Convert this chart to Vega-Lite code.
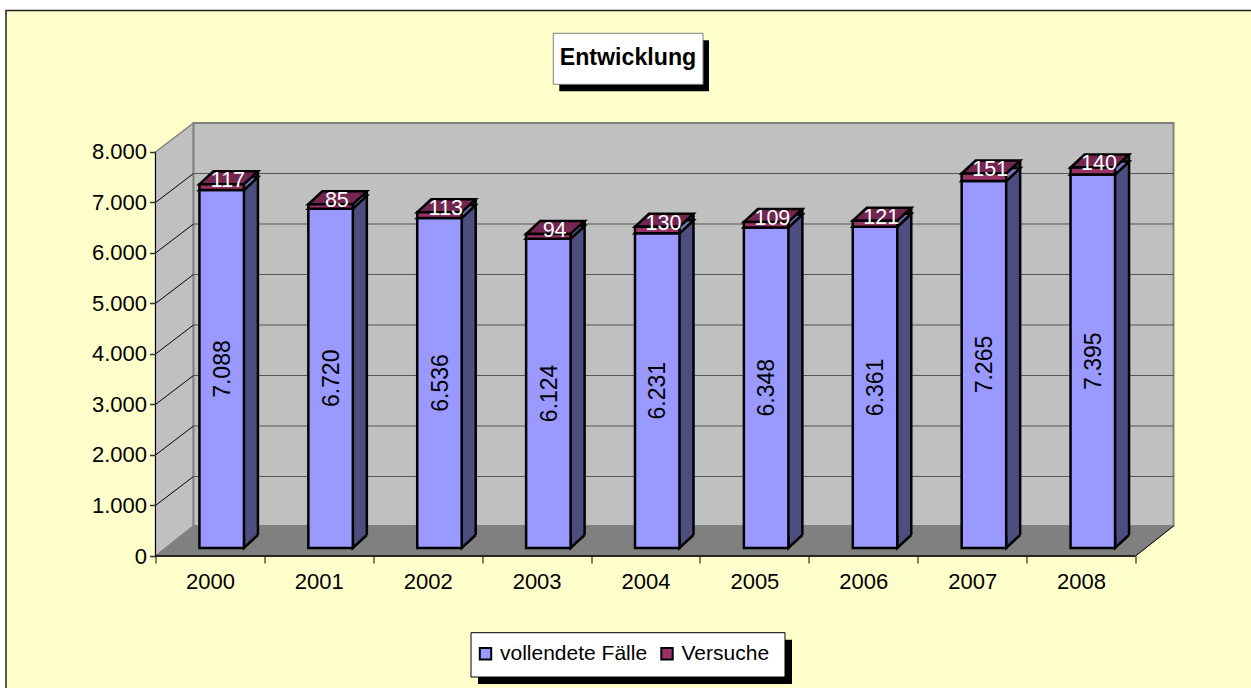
{"$schema":"https://vega.github.io/schema/vega-lite/v6.json","width":1018,"height":434,"autosize":"none","padding":{"left":155.5,"top":122,"right":77.5,"bottom":132},"background":"#ffffff","config":{"view":{"stroke":null},"font":"Liberation Sans","locale":{"number":{"decimal":",","thousands":".","grouping":[3],"currency":["","€"]}}},"title":{"text":"Entwicklung","anchor":"middle","frame":"group","dx":-36.5,"offset":0,"dy":63,"fontSize":23.2,"fontWeight":"bold","color":"#000000","font":"Liberation Sans"},"datasets":{"one":[{"k":"a"}],"grid":[{"v":1000},{"v":2000},{"v":3000},{"v":4000},{"v":5000},{"v":6000},{"v":7000}]},"data":{"values":[{"year":2000,"series":"vollendete Fälle","value":7088},{"year":2001,"series":"vollendete Fälle","value":6720},{"year":2002,"series":"vollendete Fälle","value":6536},{"year":2003,"series":"vollendete Fälle","value":6124},{"year":2004,"series":"vollendete Fälle","value":6231},{"year":2005,"series":"vollendete Fälle","value":6348},{"year":2006,"series":"vollendete Fälle","value":6361},{"year":2007,"series":"vollendete Fälle","value":7265},{"year":2008,"series":"vollendete Fälle","value":7395},{"year":2000,"series":"Versuche","value":117},{"year":2001,"series":"Versuche","value":85},{"year":2002,"series":"Versuche","value":113},{"year":2003,"series":"Versuche","value":94},{"year":2004,"series":"Versuche","value":130},{"year":2005,"series":"Versuche","value":109},{"year":2006,"series":"Versuche","value":121},{"year":2007,"series":"Versuche","value":151},{"year":2008,"series":"Versuche","value":140}]},"transform":[{"stack":"value","groupby":["year"],"sort":[{"field":"series","order":"descending"}],"as":["s0","s1"]}],"resolve":{"axis":{"x":"independent","y":"independent"}},"layer":[
{"data":{"name":"one"},"mark":{"type":"point","shape":"M-149.5,-545.5L1106,-545.5L1106,142L-149.5,142Z","size":4,"filled":true,"fill":"#ffffcc","stroke":"#222222","strokeWidth":1.5,"opacity":1},"encoding":{"x":{"datum":1999.5,"type":"quantitative","scale":{"domain":[1999.5,2008.849],"nice":false,"zero":false,"padding":0},"axis":null},"y":{"datum":0,"type":"quantitative","scale":{"domain":[0,8594],"nice":false,"padding":0},"axis":{"orient":"left","values":[0,1000,2000,3000,4000,5000,6000,7000,8000],"format":",d","domain":false,"grid":false,"title":null,"tickColor":"#333333","tickSize":6,"tickWidth":1.5,"labelFontSize":22,"labelColor":"#000000","labelPadding":3,"labelFont":"Liberation Sans","zindex":1}}}},
{"data":{"name":"one"},"mark":{"type":"point","shape":"M397.8,-522.7L547.5,-522.7L547.5,-471.7L397.8,-471.7Z","xOffset":6,"yOffset":7,"size":4,"filled":true,"fill":"#000000","opacity":1},"encoding":{"x":{"datum":1999.5,"type":"quantitative","axis":null},"y":{"datum":0,"type":"quantitative","axis":null}}},
{"data":{"name":"one"},"mark":{"type":"point","shape":"M397.8,-522.7L547.5,-522.7L547.5,-471.7L397.8,-471.7Z","size":4,"filled":true,"fill":"#ffffff","stroke":"#808080","strokeWidth":1,"opacity":1},"encoding":{"x":{"datum":1999.5,"type":"quantitative","axis":null},"y":{"datum":0,"type":"quantitative","axis":null}}},
{"data":{"name":"one"},"mark":{"type":"point","shape":"M315.5,76.7L629.5,76.7L629.5,121L315.5,121Z","xOffset":7,"yOffset":7,"size":4,"filled":true,"fill":"#000000","opacity":1},"encoding":{"x":{"datum":1999.5,"type":"quantitative","axis":null},"y":{"datum":0,"type":"quantitative","axis":null}}},
{"data":{"name":"one"},"mark":{"type":"point","shape":"M315.5,76.7L629.5,76.7L629.5,121L315.5,121Z","size":4,"filled":true,"fill":"#ffffff","stroke":"#000000","strokeWidth":1,"opacity":1},"encoding":{"x":{"datum":1999.5,"type":"quantitative","axis":null},"y":{"datum":0,"type":"quantitative","axis":null}}},
{"data":{"name":"one"},"mark":{"type":"point","shape":"M0,0L38,-30L38,-433L0,-404Z","size":4,"filled":true,"fill":"#c0c0c0","stroke":"#808080","strokeWidth":1.5,"opacity":1},"encoding":{"x":{"datum":1999.5,"type":"quantitative","axis":null},"y":{"datum":0,"type":"quantitative","axis":null}}},
{"data":{"name":"one"},"mark":{"type":"rect","fill":"#c0c0c0","stroke":"#808080","strokeWidth":2,"xOffset":38,"x2Offset":38,"yOffset":-30,"y2Offset":-29},"encoding":{"x":{"datum":1999.5,"type":"quantitative","axis":null},"x2":{"datum":2008.5},"y":{"datum":0,"type":"quantitative","axis":null},"y2":{"datum":8000}}},
{"data":{"name":"grid"},"mark":{"type":"point","shape":"M0,0L38,-29","size":4,"filled":false,"stroke":"#000000","strokeWidth":1,"opacity":1},"encoding":{"x":{"datum":1999.5,"type":"quantitative","axis":null},"y":{"field":"v","type":"quantitative","axis":null}}},
{"data":{"name":"grid"},"mark":{"type":"rule","stroke":"#555555","strokeWidth":1,"xOffset":38,"x2Offset":38,"yOffset":-29},"encoding":{"x":{"datum":1999.5,"type":"quantitative","axis":null},"x2":{"datum":2008.5},"y":{"field":"v","type":"quantitative","axis":null}}},
{"data":{"name":"one"},"mark":{"type":"point","shape":"M0,0L38,-30L1018,-30L980,0Z","size":4,"filled":true,"fill":"#808080","stroke":"#808080","strokeWidth":1,"opacity":1},"encoding":{"x":{"datum":1999.5,"type":"quantitative","axis":null},"y":{"datum":0,"type":"quantitative","axis":null}}},
{"data":{"name":"one"},"mark":{"type":"point","shape":"M980,0L1018,-30","size":4,"filled":false,"stroke":"#000000","strokeWidth":1,"opacity":1},"encoding":{"x":{"datum":1999.5,"type":"quantitative","axis":null},"y":{"datum":0,"type":"quantitative","axis":null}}},
{"data":{"name":"one"},"mark":{"type":"rule","stroke":"#000000","strokeWidth":1.5},"encoding":{"x":{"datum":1999.5,"type":"quantitative","axis":{"orient":"bottom","values":[2000,2001,2002,2003,2004,2005,2006,2007,2008],"format":"d","ticks":false,"domain":false,"grid":false,"title":null,"labelFontSize":22,"labelColor":"#000000","labelPadding":15,"labelFont":"Liberation Sans","zindex":1}},"x2":{"datum":2008.5},"y":{"datum":0,"type":"quantitative","axis":null}}},
{"data":{"name":"one"},"mark":{"type":"rule","stroke":"#000000","strokeWidth":1},"encoding":{"x":{"datum":1999.5,"type":"quantitative","axis":{"orient":"bottom","values":[1999.5,2000.5,2001.5,2002.5,2003.5,2004.5,2005.5,2006.5,2007.5,2008.5],"labels":false,"domain":false,"grid":false,"title":null,"tickColor":"#000000","tickSize":7,"tickWidth":1,"zindex":1}},"y":{"datum":0,"type":"quantitative","axis":null},"y2":{"datum":8000}}},
{"mark":{"type":"bar","orient":"vertical","size":14,"xOffset":41,"yOffset":-21,"y2Offset":-21},"encoding":{"x":{"field":"year","type":"quantitative","axis":null},"y":{"field":"s1","type":"quantitative","axis":null},"y2":{"field":"s0"},"fill":{"condition":{"test":"datum.series==='Versuche'","value":"#4d1a33"},"value":"#4d4d80"}}},
{"mark":{"type":"point","shape":"M0,-13L0,0L14,-13","size":4,"filled":true,"xOffset":34,"yOffset":-8,"stroke":"#000000","strokeWidth":2.5,"opacity":1},"encoding":{"x":{"field":"year","type":"quantitative","axis":null},"y":{"field":"s0","type":"quantitative","axis":null},"fill":{"condition":{"test":"datum.series==='Versuche'","value":"#4d1a33"},"value":"#4d4d80"}}},
{"mark":{"type":"point","shape":"M0,0L44.5,0L58.5,-13L14,-13Z","size":4,"filled":true,"xOffset":-10.5,"yOffset":-8,"stroke":"#000000","strokeWidth":2.5,"opacity":1},"encoding":{"x":{"field":"year","type":"quantitative","axis":null},"y":{"field":"s1","type":"quantitative","axis":null},"fill":{"condition":{"test":"datum.series==='Versuche'","value":"#732650"},"value":"#7373bf"}}},
{"mark":{"type":"rule","stroke":"#000000","strokeWidth":2.5,"xOffset":48,"yOffset":-21,"y2Offset":-21},"encoding":{"x":{"field":"year","type":"quantitative","axis":null},"y":{"field":"s1","type":"quantitative","axis":null},"y2":{"field":"s0"}}},
{"mark":{"type":"bar","orient":"vertical","size":44.5,"xOffset":11.75,"yOffset":-8,"y2Offset":-8,"stroke":"#000000","strokeWidth":2.5},"encoding":{"x":{"field":"year","type":"quantitative","axis":null},"y":{"field":"s1","type":"quantitative","axis":null},"y2":{"field":"s0"},"color":{"field":"series","type":"nominal","scale":{"domain":["vollendete Fälle","Versuche"],"range":["#9999ff","#993366"]},"legend":{"title":null,"orient":"none","legendX":319.5,"legendY":521,"direction":"horizontal","columns":2,"symbolType":"square","symbolSize":130,"symbolStrokeColor":"#000000","symbolStrokeWidth":2,"labelFontSize":21,"labelColor":"#000000","labelFont":"Liberation Sans","labelLimit":200,"columnPadding":8.5,"padding":0}}}},
{"transform":[{"filter":"datum.series==='vollendete Fälle'"}],"mark":{"type":"text","angle":270,"fontSize":23,"fill":"#000000","xOffset":13,"yOffset":-8,"font":"Liberation Sans"},"encoding":{"x":{"field":"year","type":"quantitative","axis":null},"y":{"field":"value","type":"quantitative","stack":"zero","bandPosition":0.5,"axis":null},"detail":{"field":"series"},"text":{"field":"value","type":"quantitative","format":",d"}}},
{"transform":[{"filter":"datum.series==='Versuche'"}],"mark":{"type":"text","fontSize":21.5,"fill":"#ffffff","xOffset":18,"yOffset":-11,"font":"Liberation Sans"},"encoding":{"x":{"field":"year","type":"quantitative","axis":null},"y":{"field":"s1","type":"quantitative","axis":null},"text":{"field":"value","type":"quantitative","format":"d"}}}
]}
